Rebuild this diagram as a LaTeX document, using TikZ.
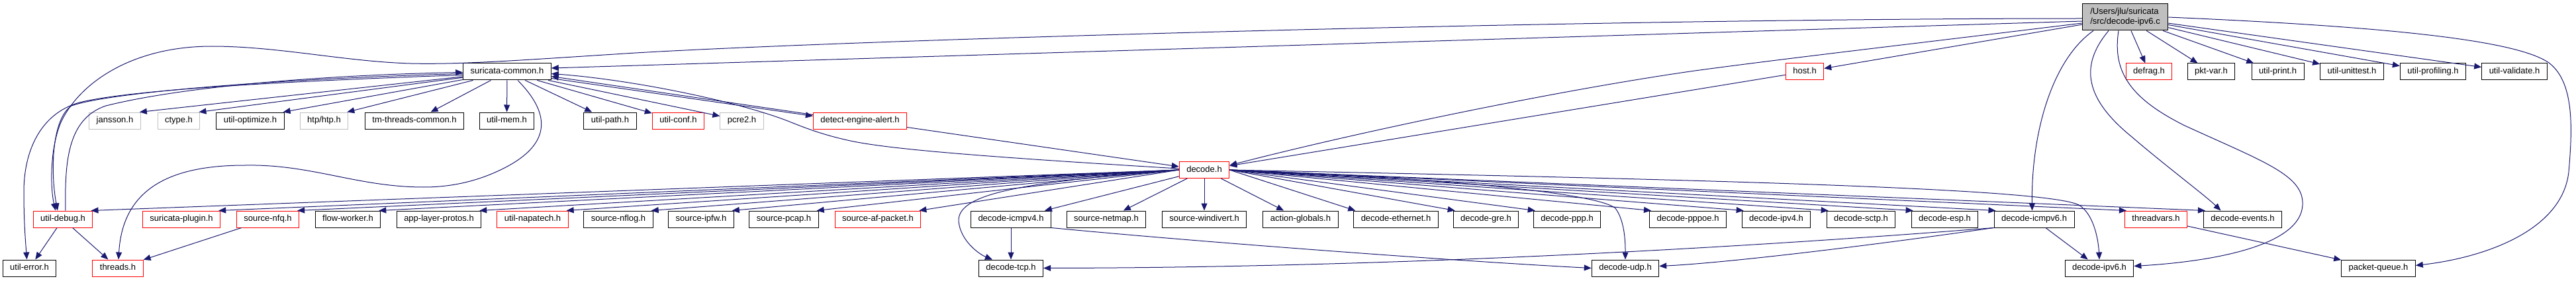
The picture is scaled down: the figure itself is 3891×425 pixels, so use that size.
\documentclass[tikz,border=0pt]{standalone}
\usepackage{fontspec}
\setmainfont{Liberation Sans}
\usetikzlibrary{arrows.meta}
\definecolor{edgeblue}{HTML}{191970}
\definecolor{nodered}{HTML}{FF0000}
\definecolor{nodegray}{HTML}{BFBFBF}
\begin{document}
\begin{tikzpicture}[x=1pt,y=-1pt,
  nbox/.style={draw=black, line width=1pt, fill=white, minimum height=25pt, inner xsep=11pt, inner ysep=0pt, text height=9pt, text depth=3pt, font=\fontsize{13}{15}\selectfont},
  blk/.style={nbox},
  redn/.style={nbox, draw=nodered},
  gryn/.style={nbox, draw=nodegray},
  conn/.style={draw=edgeblue, line width=1pt, -{Triangle[length=11pt,width=9pt]}}]
\useasboundingbox (0,0) rectangle (3891,425);
\fill[white] (0,0) rectangle (3891,425);
% root
\node[draw=black, line width=1pt, fill=nodegray, align=left, minimum height=40pt, inner xsep=12pt, inner ysep=0pt, font=\fontsize{13}{15}\selectfont] (root) at (3210,26) {/Users/jlu/suricata\\/src/decode-ipv6.c};
% row 1
\node[blk] (sc) at (766,108.5) {suricata-common.h};
\node[redn] (host) at (2726,108.5) {host.h};
\node[redn] (defrag) at (3246,108.5) {defrag.h};
\node[blk] (pktvar) at (3340,108.5) {pkt-var.h};
\node[blk] (uprint) at (3440.5,108.5) {util-print.h};
\node[blk] (uunit) at (3552.5,108.5) {util-unittest.h};
\node[blk] (uprof) at (3675,108.5) {util-profiling.h};
\node[blk] (uvalid) at (3798,108.5) {util-validate.h};
% row 2
\node[gryn] (jansson) at (173.5,182.5) {jansson.h};
\node[gryn] (ctype) at (270,182.5) {ctype.h};
\node[blk] (uopt) at (378,182.5) {util-optimize.h};
\node[gryn] (htp) at (489.5,182.5) {htp/htp.h};
\node[blk] (tmth) at (626,182.5) {tm-threads-common.h};
\node[blk] (umem) at (765.5,182.5) {util-mem.h};
\node[blk] (upath) at (921.5,182.5) {util-path.h};
\node[redn] (uconf) at (1024.5,182.5) {util-conf.h};
\node[gryn] (pcre) at (1120.5,182.5) {pcre2.h};
\node[redn] (dea) at (1299,182.5) {detect-engine-alert.h};
% row 3
\node[redn] (decode) at (1819,257) {decode.h};
% row 4
\node[redn] (udebug) at (95,331.5) {util-debug.h};
\node[redn] (splugin) at (274,331.5) {suricata-plugin.h};
\node[redn] (snfq) at (404.5,331.5) {source-nfq.h};
\node[blk] (flowworker) at (525.5,331.5) {flow-worker.h};
\node[blk] (alproto) at (663,331.5) {app-layer-protos.h};
\node[redn] (napatech) at (804.5,331.5) {util-napatech.h};
\node[blk] (snflog) at (934,331.5) {source-nflog.h};
\node[blk] (sipfw) at (1059,331.5) {source-ipfw.h};
\node[blk] (spcap) at (1184,331.5) {source-pcap.h};
\node[redn] (safpacket) at (1326,331.5) {source-af-packet.h};
\node[blk] (icmpfour) at (1527,331.5) {decode-icmpv4.h};
\node[blk] (netmap) at (1671,331.5) {source-netmap.h};
\node[blk] (windivert) at (1819,331.5) {source-windivert.h};
\node[blk] (actglob) at (1964.5,331.5) {action-globals.h};
\node[blk] (ether) at (2108.5,331.5) {decode-ethernet.h};
\node[blk] (gre) at (2244.5,331.5) {decode-gre.h};
\node[blk] (ppp) at (2367,331.5) {decode-ppp.h};
\node[blk] (pppoe) at (2549.5,331.5) {decode-pppoe.h};
\node[blk] (ipfour) at (2683,331.5) {decode-ipv4.h};
\node[blk] (sctp) at (2811,331.5) {decode-sctp.h};
\node[blk] (esp) at (2937.5,331.5) {decode-esp.h};
\node[blk] (icmpsix) at (3072.5,331.5) {decode-icmpv6.h};
\node[redn] (tvars) at (3256.5,331.5) {threadvars.h};
\node[blk] (events) at (3387.5,331.5) {decode-events.h};
% row 5
\node[blk] (uerr) at (44.5,405.5) {util-error.h};
\node[redn] (threads) at (178,405.5) {threads.h};
\node[blk] (tcp) at (1527,405.5) {decode-tcp.h};
\node[blk] (udp) at (2455,405.5) {decode-udp.h};
\node[blk] (ipsix) at (3171,405.5) {decode-ipv6.h};
\node[blk] (pq) at (3592.5,405.5) {packet-queue.h};

% ---- edges from root
\draw[conn] ([yshift=-6pt]root.west) -- ([yshift=5.5pt]sc.east);
\draw[conn] ([yshift=-2pt]root.west) .. controls (2400,28) and (1300,60) .. (960,80)
  .. controls (800,90) and (700,98) .. (620,96)
  .. controls (520,93) and (420,70) .. (320,70)
  .. controls (200,70) and (120,125) .. (92,185)
  .. controls (75,225) and (76,285) .. ([xshift=-11pt]udebug.north);
\draw[conn] ([yshift=-9pt]root.west) .. controls (2900,65) and (2700,88) .. (2560,107)
  .. controls (2350,137) and (2050,200) .. ([yshift=7pt]decode.east);
\draw[conn] (root) -- (host);
\foreach \t in {defrag,pktvar,uprint,uunit,uprof,uvalid} \draw[conn] (root) -- (\t);
\draw[conn] (root.east) .. controls (3600,40) and (3800,60) .. (3850,95)
  .. controls (3890,125) and (3885,200) .. (3880,260)
  .. controls (3870,350) and (3750,390) .. ([yshift=4pt]pq.east);
\draw[conn] ([xshift=-48pt]root.south) .. controls (3100,90) and (3068,200) .. ([xshift=-3pt]icmpsix.north);
\draw[conn] ([xshift=-25pt]root.south) .. controls (3140,100) and (3150,150) .. (3220,207)
  .. controls (3270,250) and (3330,295) .. ([xshift=-33pt]events.north);
\draw[conn] ([xshift=-10pt]root.south) .. controls (3190,110) and (3220,150) .. (3300,190)
  .. controls (3420,245) and (3480,265) .. (3478,310)
  .. controls (3475,370) and (3350,395) .. ([yshift=3pt]ipsix.east);
\draw[conn] (host) -- (decode);

% ---- suricata-common
\foreach \t in {jansson,ctype,uopt,htp} \draw[conn] (sc) -- ([xshift=-2pt]\t.north east);
\foreach \t in {tmth,umem,upath,uconf,pcre} \draw[conn] (sc) -- (\t);
\draw[conn] ([yshift=-10pt]sc.east) -- ([yshift=7pt]dea.west);
\draw[conn] ([yshift=9pt]dea.west) -- ([yshift=-7pt]sc.east);
\draw[conn] ([yshift=-3pt]sc.west) .. controls (450,118) and (170,138) .. (108,160)
  .. controls (78,180) and (76,260) .. ([xshift=-8pt]udebug.north);
\draw[conn] ([yshift=-5pt]sc.west) .. controls (450,122) and (200,135) .. (120,155)
  .. controls (60,172) and (36,230) .. (36,290)
  .. controls (36,340) and (39,370) .. ([xshift=-4pt]uerr.north);
\draw[conn] ([xshift=4pt]udebug.north) .. controls (98,250) and (100,180) .. (160,160)
  .. controls (300,125) and (550,112) .. ([yshift=-1pt]sc.west);
\draw[conn] ([xshift=16pt]sc.south) .. controls (835,175) and (830,220) .. (760,255)
  .. controls (720,275) and (680,283) .. (640,283)
  .. controls (540,283) and (470,248) .. (370,250)
  .. controls (250,250) and (185,290) .. ([xshift=1pt]threads.north);

% ---- detect-engine-alert
\draw[conn] ([yshift=-10pt]dea.east) -- ([yshift=5pt]decode.west);

% ---- decode.h
\draw[conn] ([yshift=2pt]decode.west) .. controls (1500,238) and (1340,226) .. (1280,212)
  .. controls (1240,203) and (1215,193) .. (1190,183)
  .. controls (1110,152) and (950,120) .. ([yshift=-3pt]sc.east);
\foreach \t in {udebug,splugin,snfq,flowworker,alproto,napatech,snflog,sipfw,spcap,safpacket}
  \draw[conn] (decode.west) -- ([xshift=-3pt]\t.north east);
\foreach \t in {icmpfour,netmap,windivert,actglob} \draw[conn] (decode) -- (\t);
\foreach \t in {ether,gre,ppp,pppoe,ipfour,sctp,esp,icmpsix,tvars,events}
  \draw[conn] (decode.east) -- ([xshift=3pt]\t.north west);
\draw[conn] (decode.west) .. controls (1560,275) and (1445,290) .. (1448,335)
  .. controls (1451,365) and (1480,385) .. ([xshift=-28pt]tcp.north);
\draw[conn] (decode.east) .. controls (2150,268) and (2410,290) .. (2440,315)
  .. controls (2455,335) and (2455,370) .. (udp.north);
\draw[conn] (decode.east) .. controls (2600,272) and (3090,285) .. (3140,310)
  .. controls (3165,325) and (3170,370) .. (ipsix.north);

% ---- lower rows
\draw[conn] (udebug) -- (uerr);
\draw[conn] (udebug) -- (threads);
\draw[conn] (snfq) -- (threads);
\draw[conn] (icmpfour) -- (tcp);
\draw[conn] (icmpfour.south east) .. controls (1800,365) and (2200,395) .. (udp.west);
\draw[conn] (icmpsix.south west) .. controls (2500,385) and (2000,405) .. (tcp.east);
\draw[conn] (icmpsix.south west) .. controls (2800,375) and (2600,398) .. ([yshift=3pt]udp.east);
\draw[conn] (icmpsix) -- (ipsix);
\draw[conn] (tvars) -- (pq);
\end{tikzpicture}
\end{document}
